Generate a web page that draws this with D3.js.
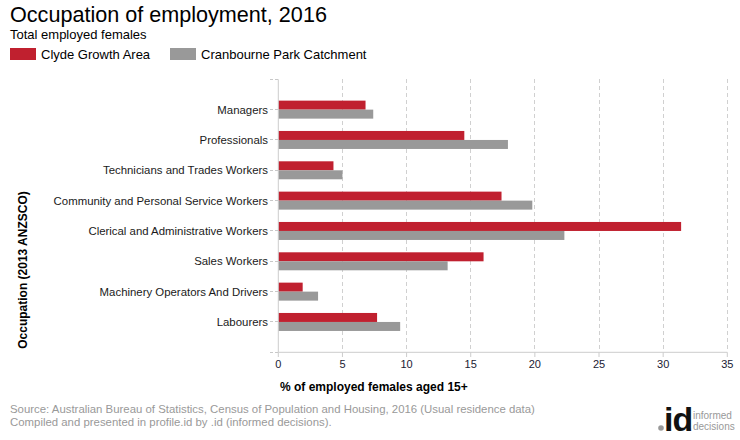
<!DOCTYPE html>
<html><head><meta charset="utf-8">
<script src="https://cdn.jsdelivr.net/npm/d3@7"></script>
<style>body{margin:0;background:#fff;font-family:Arial,"Liberation Sans",sans-serif}</style>
</head><body><svg id="c" width="740" height="440"></svg>
<script>
const categories = ["Managers","Professionals","Technicians and Trades Workers","Community and Personal Service Workers","Clerical and Administrative Workers","Sales Workers","Machinery Operators And Drivers","Labourers"];
const clyde = [6.8,14.5,4.3,17.4,31.4,16.0,1.9,7.7];
const cranbourne = [7.4,17.9,5.0,19.8,22.3,13.2,3.1,9.5];
const seriesNames = ["Clyde Growth Area","Cranbourne Park Catchment"];
const colors = ["#C0202F","#999999"];
const xTicks = [0,5,10,15,20,25,30,35];

const svg = d3.select("#c");
const F = "Arial, 'Liberation Sans', sans-serif";
const x = d3.scaleLinear().domain([0,35]).range([278.3,727.3]);
const y = d3.scalePoint().domain(categories).range([79.3,352.3]).padding(1);
const barH = 9;

// title
svg.append("text").attr("x",10).attr("y",22).attr("font-size",21.6).attr("font-family",F).attr("fill","#000").text("Occupation of employment, 2016");
svg.append("text").attr("x",10).attr("y",39).attr("font-size",13).attr("font-family",F).attr("fill","#000").text("Total employed females");
// legend
const lg = svg.append("g");
[[10,41],[170,201]].forEach((p,i)=>{
  lg.append("rect").attr("x",p[0]).attr("y",48).attr("width",26).attr("height",12).attr("fill",colors[i]);
  lg.append("text").attr("x",p[1]).attr("y",58.5).attr("font-size",13).attr("font-family",F).attr("fill","#000").text(seriesNames[i]);
});

// grid
svg.append("g").selectAll("line").data(xTicks.slice(1)).join("line")
  .attr("x1",d=>x(d)).attr("x2",d=>x(d)).attr("y1",79.3).attr("y2",352.3)
  .attr("stroke","#d0d0d0").attr("stroke-dasharray","4,3").attr("shape-rendering","crispEdges");

// y-axis ticks (dashed) incl top/bottom
const yTickPos = [79.3, ...categories.map(c=>y(c)), 352.3];
svg.append("g").selectAll("line").data(yTickPos).join("line")
  .attr("x1",270).attr("x2",278).attr("y1",d=>d).attr("y2",d=>d)
  .attr("stroke","#c8c8c8").attr("stroke-dasharray","3,2").attr("shape-rendering","crispEdges");

// bars
const g = svg.append("g");
g.selectAll("rect.a").data(categories).join("rect").attr("class","a")
  .attr("x",x(0)).attr("y",d=>y(d)-barH).attr("height",barH)
  .attr("width",(d,i)=>x(clyde[i])-x(0)).attr("fill",colors[0]);
g.selectAll("rect.b").data(categories).join("rect").attr("class","b")
  .attr("x",x(0)).attr("y",d=>y(d)).attr("height",barH)
  .attr("width",(d,i)=>x(cranbourne[i])-x(0)).attr("fill",colors[1]);

// axes lines
svg.append("line").attr("x1",x(0)).attr("x2",x(0)).attr("y1",79.3).attr("y2",352.3).attr("stroke","#cccccc").attr("stroke-width",1);
svg.append("line").attr("x1",x(0)).attr("x2",x(35)).attr("y1",352.3).attr("y2",352.3).attr("stroke","#cccccc").attr("stroke-width",1);
svg.append("g").selectAll("line").data(xTicks).join("line")
  .attr("x1",d=>x(d)).attr("x2",d=>x(d)).attr("y1",352.3).attr("y2",357).attr("stroke","#cccccc");

// x tick labels
svg.append("g").selectAll("text").data(xTicks).join("text")
  .attr("x",d=>x(d)).attr("y",368).attr("text-anchor","middle").attr("font-size",11).attr("font-family",F).attr("fill","#1a1a33").text(d=>d);
// y labels
svg.append("g").selectAll("text").data(categories).join("text")
  .attr("x",268).attr("y",d=>y(d)+4).attr("text-anchor","end").attr("font-size",11.4).attr("font-family",F).attr("fill","#1a1a1a").text(d=>d);

// axis titles
svg.append("text").attr("x",280).attr("y",391).attr("font-size",12).attr("font-weight","bold").attr("font-family",F).attr("fill","#000").text("% of employed females aged 15+");
svg.append("text").attr("transform","translate(27,270) rotate(-90)").attr("text-anchor","middle").attr("font-size",12).attr("font-weight","bold").attr("font-family",F).attr("fill","#000").text("Occupation (2013 ANZSCO)");

// source
svg.append("text").attr("x",10).attr("y",413).attr("font-size",11.4).attr("font-family",F).attr("fill","#999").text("Source: Australian Bureau of Statistics, Census of Population and Housing, 2016 (Usual residence data)");
svg.append("text").attr("x",10).attr("y",426).attr("font-size",11.4).attr("font-family",F).attr("fill","#999").text("Compiled and presented in profile.id by .id (informed decisions).");

// logo
svg.append("circle").attr("cx",661).attr("cy",428).attr("r",2.8).attr("fill","#999");
svg.append("text").attr("x",664).attr("y",431).attr("font-size",34).attr("font-weight","bold").attr("font-family",F).attr("fill","#111").attr("letter-spacing","-1").text("id");
svg.append("text").attr("x",693).attr("y",419).attr("font-size",10).attr("font-family",F).attr("fill","#999").text("informed");
svg.append("text").attr("x",693).attr("y",430).attr("font-size",10).attr("font-family",F).attr("fill","#999").text("decisions");
</script></body></html>
